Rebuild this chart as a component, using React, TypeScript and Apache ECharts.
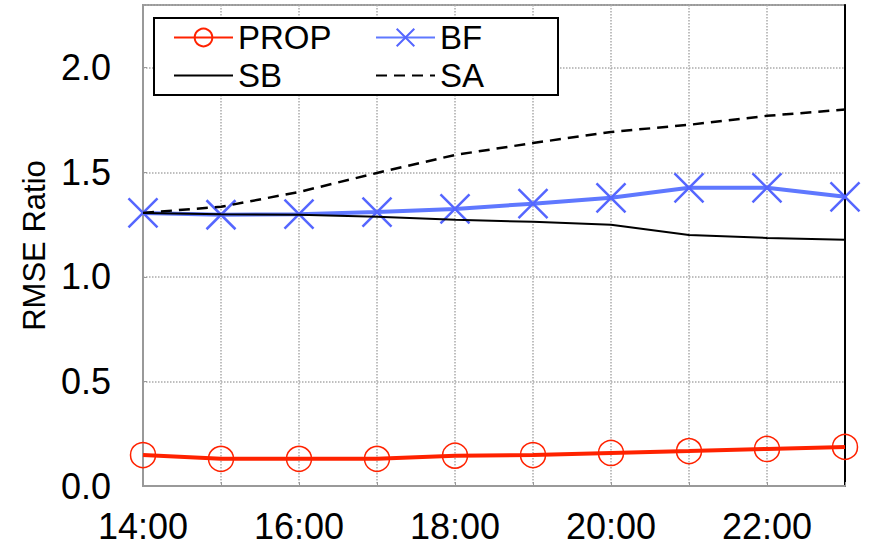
import React, { useEffect, useRef } from "react";
import * as echarts from "echarts";

const hours = ["14:00", "15:00", "16:00", "17:00", "18:00", "19:00", "20:00", "21:00", "22:00", "23:00"];
const propValues = [0.148, 0.13, 0.13, 0.13, 0.145, 0.148, 0.158, 0.167, 0.177, 0.187];
const bfValues = [1.306, 1.297, 1.3, 1.31, 1.325, 1.35, 1.378, 1.426, 1.426, 1.383];
const sbValues = [1.306, 1.3, 1.297, 1.287, 1.273, 1.263, 1.249, 1.2, 1.186, 1.177];
const saValues = [1.306, 1.335, 1.406, 1.497, 1.583, 1.64, 1.693, 1.727, 1.77, 1.8];
const yTicks = { min: 0, max: 2.3, interval: 0.5 };

const FONT = "'Liberation Sans', Arial, Helvetica, sans-serif";
const RED = "#ff2200";
const BLUE = "#5f78ff";

export default function App() {
  const ref = useRef<HTMLDivElement>(null);
  useEffect(() => {
    if (!ref.current) return;
    const chart = echarts.init(ref.current, undefined, { renderer: "svg" });
    const legendText = { fontFamily: FONT, fontSize: 33, color: "#000" };
    const legendBase = {
      orient: "horizontal",
      padding: 0,
      itemWidth: 59,
      itemHeight: 22,
      itemGap: 5,
      textStyle: legendText,
      selectedMode: false,
    };
    chart.setOption({
      animation: false,
      backgroundColor: "#fff",
      textStyle: { fontFamily: FONT },
      grid: {
        left: 143,
        right: 25,
        top: 5,
        bottom: 66,
        show: true,
        borderColor: "#999",
        borderWidth: 2,
      },
      graphic: [
        {
          type: "rect",
          shape: { x: 154, y: 18, width: 404, height: 77 },
          style: { fill: "#fff", stroke: "#000", lineWidth: 2 },
          z: 100,
        },
      ],
      legend: [
        { ...legendBase, data: ["PROP"], left: 173, top: 21, z: 110 },
        { ...legendBase, data: ["BF"], left: 375, top: 21, z: 110 },
        { ...legendBase, data: ["SB"], left: 173, top: 59, z: 110 },
        { ...legendBase, data: ["SA"], left: 375, top: 59, z: 110 },
      ],
      xAxis: {
        type: "category",
        data: hours,
        boundaryGap: false,
        axisLine: { lineStyle: { color: "#999", width: 2 } },
        axisTick: { show: true, inside: true, length: 4, interval: 0, lineStyle: { color: "#999" } },
        axisLabel: { interval: 1, fontSize: 36, color: "#000", margin: 22, fontFamily: FONT },
        splitLine: { show: true, interval: 0, lineStyle: { type: "dotted", color: "#aaa", width: 1.5 } },
      },
      yAxis: [
        {
          type: "value",
          min: yTicks.min,
          max: yTicks.max,
          interval: yTicks.interval,
          name: "RMSE Ratio",
          nameLocation: "middle",
          nameGap: 92,
          nameTextStyle: { fontSize: 31, color: "#000", fontFamily: FONT },
          axisLine: { show: true, lineStyle: { color: "#999", width: 2 } },
          axisTick: { show: true, inside: true, length: 4, lineStyle: { color: "#999" } },
          axisLabel: {
            fontSize: 36,
            color: "#000",
            margin: 32,
            fontFamily: FONT,
            showMaxLabel: false,
            formatter: (v: number) => v.toFixed(1),
          },
          splitLine: { show: true, lineStyle: { type: "dotted", color: "#aaa", width: 1.5 } },
        },
        {
          type: "value",
          position: "right",
          min: yTicks.min,
          max: yTicks.max,
          interval: yTicks.interval,
          axisLine: { show: true, lineStyle: { color: "#000", width: 2 } },
          axisTick: { show: false },
          axisLabel: { show: false },
          splitLine: { show: false },
        },
      ],
      series: [
        {
          name: "PROP",
          type: "line",
          data: propValues,
          symbol: "circle",
          symbolSize: 25,
          showAllSymbol: true,
          lineStyle: { color: RED, width: 4 },
          itemStyle: { color: "rgba(0,0,0,0)", borderColor: RED, borderWidth: 1.5 },
          z: 3,
        },
        {
          name: "BF",
          type: "line",
          data: bfValues,
          symbol: "path://M0,0L10,10M10,0L0,10",
          symbolSize: 29,
          showAllSymbol: true,
          lineStyle: { color: BLUE, width: 4 },
          itemStyle: { color: "#4a5cff", borderColor: "#5566ff", borderWidth: 2.5 },
          z: 3,
        },
        {
          name: "SB",
          type: "line",
          data: sbValues,
          symbol: "none",
          lineStyle: { color: "#000", width: 2 },
          itemStyle: { color: "rgba(0,0,0,0)", borderWidth: 0 },
          z: 4,
        },
        {
          name: "SA",
          type: "line",
          data: saValues,
          symbol: "none",
          lineStyle: { color: "#000", width: 2.5, type: [11, 7] },
          itemStyle: { color: "rgba(0,0,0,0)", borderWidth: 0 },
          z: 4,
        },
      ],
    });
    return () => chart.dispose();
  }, []);
  return <div ref={ref} style={{ width: 870, height: 552, position: "absolute", left: 0, top: 0 }} />;
}
